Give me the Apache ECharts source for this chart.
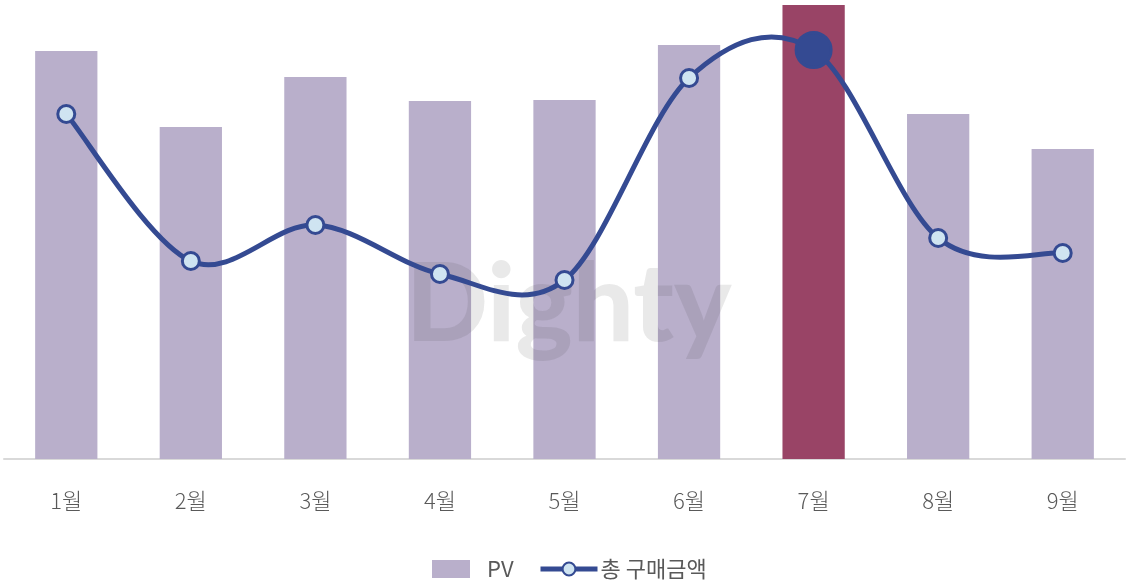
<!DOCTYPE html>
<html>
<head>
<meta charset="utf-8">
<script src="https://cdn.jsdelivr.net/npm/echarts@6/dist/echarts.min.js"></script>
<style>
html,body{margin:0;padding:0;background:#fff;}
#c{width:1127px;height:580px;}
</style>
</head>
<body>
<div id="c"></div>
<script>
const categories = ['1월','2월','3월','4월','5월','6월','7월','8월','9월'];
const pvValues = [408, 332, 382, 358, 359, 414, 454, 345, 310];
const salesValues = [345, 198, 234, 185, 179, 381, 409, 221, 206];
const highlightIndex = 6;

const FONT = '"Noto Sans CJK KR", "Noto Sans", sans-serif';
const BAR = '#b9afcb';
const BAR_HL = '#994466';
const LINE = '#344a92';
const MARK_FILL = '#cfe4f1';
const TEXT = '#595959';

// Smooth curve through points (cardinal/Catmull-Rom style), drawn with axis coords
function renderCurve(params, api) {
  const i = params.dataIndex;
  const n = salesValues.length;
  if (i >= n - 1) return null;
  const P = k => api.coord([Math.max(0, Math.min(n - 1, k)), salesValues[Math.max(0, Math.min(n - 1, k))]]);
  const p0 = P(i - 1), p1 = P(i), p2 = P(i + 1), p3 = P(i + 2);
  const t = 1 / 6;
  return {
    type: 'bezierCurve',
    shape: {
      x1: p1[0], y1: p1[1],
      x2: p2[0], y2: p2[1],
      cpx1: p1[0] + (p2[0] - p0[0]) * t, cpy1: p1[1] + (p2[1] - p0[1]) * t,
      cpx2: p2[0] - (p3[0] - p1[0]) * t, cpy2: p2[1] - (p3[1] - p1[1]) * t
    },
    style: {stroke: LINE, lineWidth: 5, fill: null, lineCap: 'round'}
  };
}

const chart = echarts.init(document.getElementById('c'), null, {renderer: 'canvas'});
chart.setOption({
  animation: false,
  backgroundColor: '#fff',
  graphic: [{
    type: 'text',
    left: 406, top: 252,
    z: 3,
    silent: true,
    style: {
      text: 'Dighty',
      font: '900 108px "Lato", "Open Sans", sans-serif',
      fill: 'rgba(53,53,53,0.11)'
    }
  }],
  legend: [{
    left: 427, top: 553,
    itemWidth: 38, itemHeight: 18,
    data: [{name: 'PV', icon: 'rect'}],
    textStyle: {fontFamily: FONT, fontSize: 22, color: TEXT, padding: [0,0,0,12]}
  }, {
    left: 533, top: 553,
    itemWidth: 57, itemHeight: 16,
    data: [{name: '총 구매금액', lineStyle: {width: 5, color: LINE, opacity: 1}}],
    textStyle: {fontFamily: FONT, fontSize: 22, color: TEXT, padding: [0,0,0,-2]}
  }],
  grid: {left: 4, right: 2, top: 5, bottom: 121, containLabel: false},
  xAxis: {
    type: 'category',
    data: categories,
    axisLine: {show: true, lineStyle: {color: '#d9d9d9', width: 2}},
    axisTick: {show: false},
    axisLabel: {fontFamily: FONT, fontSize: 22, fontWeight: 300, color: TEXT, margin: 31}
  },
  yAxis: [
    {type: 'value', min: 0, max: 454, show: false, splitLine: {show: false}},
    {type: 'value', min: 0, max: 454, show: false, splitLine: {show: false}}
  ],
  series: [{
    name: 'PV',
    type: 'bar',
    barWidth: '50%',
    z: 2,
    itemStyle: {color: BAR},
    data: pvValues.map((v, i) => i === highlightIndex ? {value: v, itemStyle: {color: BAR_HL}} : v)
  }, {
    type: 'custom',
    yAxisIndex: 1,
    z: 4,
    silent: true,
    renderItem: renderCurve,
    encode: {x: 0, y: 1},
    data: salesValues.map((v, i) => [i, v])
  }, {
    name: '총 구매금액',
    type: 'line',
    yAxisIndex: 1,
    z: 5,
    lineStyle: {width: 0, opacity: 0, color: LINE},
    itemStyle: {color: MARK_FILL, borderColor: LINE, borderWidth: 3},
    symbol: 'circle',
    symbolSize: 17,
    data: salesValues.map((v, i) => i === highlightIndex ? {value: v, symbolSize: 35, itemStyle: {color: LINE, borderColor: LINE}} : v)
  }]
});
</script>
</body>
</html>
